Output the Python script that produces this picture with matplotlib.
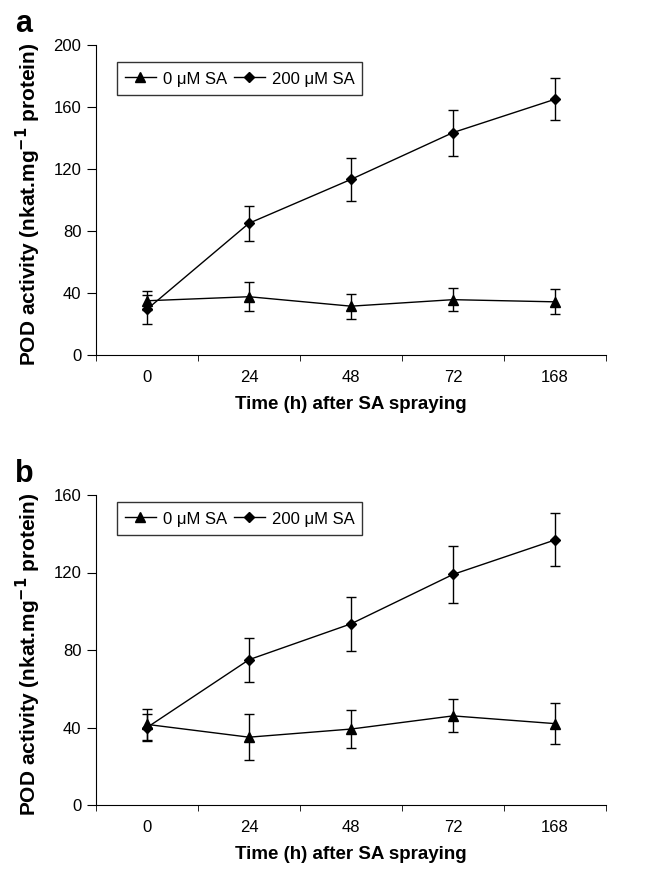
import matplotlib.pyplot as plt
from matplotlib.lines import Line2D
import numpy as np

plt.rcParams['font.family'] = ['Liberation Sans', 'DejaVu Sans']

times = ['0', '24', '48', '72', '168']

# panel a
a_ctrl = [35, 37.6, 31.5, 35.7, 34.3]
a_ctrl_err = [6, 9.5, 8, 7.5, 8]
a_sa = [29.5, 85, 113.3, 143.5, 165]
a_sa_err = [9.5, 11.3, 14, 14.8, 13.7]

# panel b
b_ctrl = [41.6, 35, 39.2, 46, 42]
b_ctrl_err = [8, 12, 10, 8.5, 10.5]
b_sa = [40, 75, 93.5, 119, 136.8]
b_sa_err = [7, 11.3, 14, 14.7, 13.7]

W, H = 667, 871
fig = plt.figure(figsize=(W / 100, H / 100), dpi=100)


def panel(top, bottom, ctrl, ctrl_err, sa, sa_err, ymax, yticks, letter, leg_top):
    ax = fig.add_axes([96 / W, 1 - bottom / H, (606 - 96) / W, (bottom - top) / H])
    x = np.arange(len(times))
    ax.errorbar(x, ctrl, yerr=ctrl_err, color='black', marker='^', ms=7, lw=1,
                elinewidth=1, capsize=3.3, capthick=1)
    ax.errorbar(x, sa, yerr=sa_err, color='black', marker='D', ms=5.5, lw=1,
                elinewidth=1, capsize=3.3, capthick=1)
    ax.set_xlim(-0.5, len(times) - 0.5)
    ax.set_ylim(0, ymax)
    ax.set_yticks(yticks)
    ax.set_xticks(x)
    ax.set_xticklabels(times)
    ax.set_xticks(np.arange(len(times) + 1) - 0.5, minor=True)
    ax.tick_params(axis='x', which='major', length=0, labelsize=12, pad=11)
    ax.tick_params(axis='x', which='minor', length=4, direction='out')
    ax.tick_params(axis='y', length=6.5, direction='out', labelsize=12, pad=4)
    for s in ['top', 'right']:
        ax.spines[s].set_visible(False)
    ax.set_xlabel('Time (h) after SA spraying', fontsize=13.5, fontweight='bold')
    ax.xaxis.set_label_coords(0.5, -0.131)
    ax.set_ylabel('POD activity (nkat.mg$^{\\mathbf{-1}}$ protein)', fontsize=15,
                  fontweight='bold')
    ax.yaxis.set_label_coords(-0.104, 0.487)
    handles = [Line2D([], [], color='black', marker='^', ms=7, lw=1),
               Line2D([], [], color='black', marker='D', ms=5.5, lw=1)]
    leg = ax.legend(handles, ['0 \u03bcM SA', '200 \u03bcM SA'], loc='upper left',
                    bbox_to_anchor=(117 / W, 1 - leg_top / H), bbox_transform=fig.transFigure,
                    ncol=2, frameon=True, fancybox=False, edgecolor='black', fontsize=12,
                    handlelength=1.9, handleheight=1.3, handletextpad=0.4, columnspacing=0.4,
                    borderpad=0.45, borderaxespad=0)
    leg.get_frame().set_linewidth(1)
    fig.text(15 / W, 1 - (top - 13) / H, letter, fontsize=22, fontweight='bold', va='baseline')
    return ax


panel(45, 355, a_ctrl, a_ctrl_err, a_sa, a_sa_err, 200, [0, 40, 80, 120, 160, 200], 'a', 62)
panel(495, 805, b_ctrl, b_ctrl_err, b_sa, b_sa_err, 160, [0, 40, 80, 120, 160], 'b', 502)

fig.savefig('out.png', dpi=100)
